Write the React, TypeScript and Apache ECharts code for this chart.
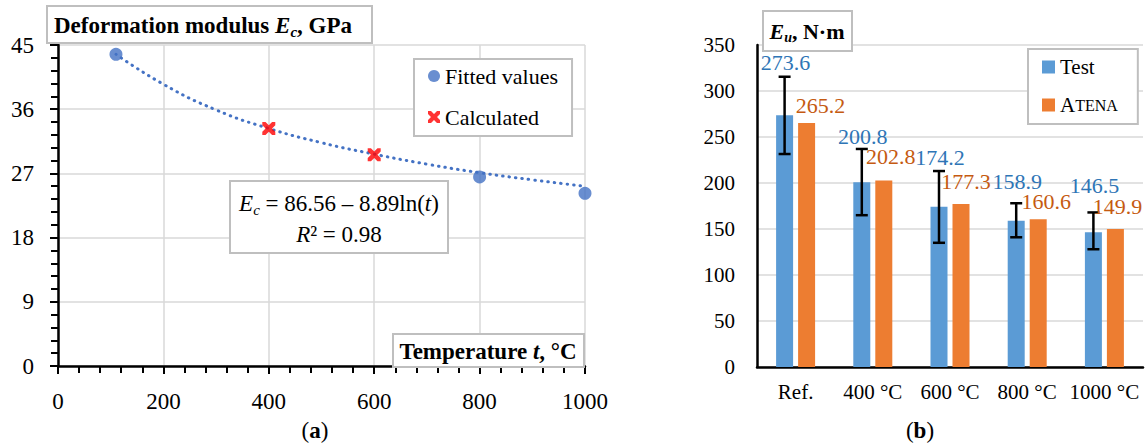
import React, { useEffect, useRef } from 'react';
import * as echarts from 'echarts';

// ---- Data: chart (a) ----
const fittedT = [110, 800, 1000];
const fittedE = [43.7, 26.5, 24.2];
const calcT = [400, 600];
const calcE = [33.3, 29.6];
const trendT = [110, 200, 300, 400, 500, 600, 700, 800, 900, 1000];
const trendE = [43.7, 39.5, 35.9, 33.3, 31.3, 29.7, 28.3, 27.1, 26.1, 25.2];
const tempTicks = { min: 0, max: 1000, step: 200 };
const modTicks = { min: 0, max: 45, step: 9 };

// ---- Data: chart (b) ----
const categories = ['Ref.', '400 °C', '600 °C', '800 °C', '1000 °C'];
const testValues = [273.6, 200.8, 174.2, 158.9, 146.5];
const atenaValues = [265.2, 202.8, 177.3, 160.6, 149.9];
const testLow = [231.5, 165, 135, 141, 128];
const testHigh = [315.5, 237, 213, 178, 168];
const energyTicks = { min: 0, max: 350, step: 50 };

// ---- Label placement (styling, px) ----
const testLabelLift = [14, 12, 14, 22, 27];
const atenaLabelLift = [18, 24, 22, 18, 23];
const atenaLabelDx = [14, 7, 5, 8, 2];

const FONT = "'Liberation Serif', 'Times New Roman', serif";
const BLUE_PT = '#4472C4';
const TEST_C = '#5B9BD5';
const ATENA_C = '#ED7D31';
const TEST_LBL = '#2E75B6';
const ATENA_LBL = '#C55A11';
const GRID_C = '#d9d9d9';
const BOX_C = '#bfbfbf';
const X_PATH = 'path://M0,0L3,0L6,3L9,0L12,0L12,3L9,6L12,9L12,12L9,12L6,9L3,12L0,12L0,9L3,6L0,3Z';

const BAR_W = 17;
const BAR_GAP_PX = 5;

export default function App() {
  const ref = useRef<HTMLDivElement>(null);
  useEffect(() => {
    if (!ref.current) return;
    const chart = echarts.init(ref.current, undefined, { renderer: 'svg' });

    const axisBlack = { show: true, lineStyle: { color: '#000', width: 2.5 } };
    const labelA = { color: '#000', fontFamily: FONT, fontSize: 23 };
    const labelB = { color: '#000', fontFamily: FONT, fontSize: 21 };

    const option: any = {
      animation: false,
      backgroundColor: '#fff',
      textStyle: { fontFamily: FONT },
      grid: [
        { left: 58, top: 45, width: 527, height: 321 },
        { left: 757, top: 45, width: 386, height: 322 },
      ],
      xAxis: [
        {
          type: 'value', gridIndex: 0,
          min: tempTicks.min, max: tempTicks.max, interval: tempTicks.step,
          axisLine: axisBlack,
          axisTick: { show: true, length: 8, lineStyle: { color: '#000', width: 2 } },
          minorTick: { show: true, splitNumber: 5, length: 7, lineStyle: { color: '#000', width: 2 } },
          splitLine: { show: true, lineStyle: { color: GRID_C, width: 1.5 } },
          axisLabel: { ...labelA, margin: 24, formatter: (v: number) => String(v) },
        },
        {
          type: 'category', gridIndex: 1, data: categories,
          axisLine: axisBlack,
          axisTick: { show: false },
          splitLine: { show: false },
          axisLabel: { ...labelB, margin: 14, interval: 0 },
        },
      ],
      yAxis: [
        {
          type: 'value', gridIndex: 0,
          min: modTicks.min, max: modTicks.max, interval: modTicks.step,
          axisLine: axisBlack,
          axisTick: { show: true, length: 8, lineStyle: { color: '#000', width: 2 } },
          minorTick: { show: true, splitNumber: 5, length: 7, lineStyle: { color: '#000', width: 2 } },
          splitLine: { show: true, lineStyle: { color: GRID_C, width: 1.5 } },
          axisLabel: { ...labelA, margin: 24 },
        },
        {
          type: 'value', gridIndex: 1,
          min: energyTicks.min, max: energyTicks.max, interval: energyTicks.step,
          axisLine: axisBlack,
          axisTick: { show: false },
          splitLine: { show: true, lineStyle: { color: GRID_C, width: 1.5 } },
          axisLabel: { ...labelB, margin: 22 },
        },
      ],
      legend: [
        {
          orient: 'vertical',
          left: 414, top: 59,
          padding: [6, 14, 8, 14],
          itemGap: 19,
          itemWidth: 12, itemHeight: 12,
          borderColor: BOX_C, borderWidth: 2, backgroundColor: '#fff',
          textStyle: { fontFamily: FONT, fontSize: 22, color: '#000', lineHeight: 22 },
          data: [
            { name: 'Fitted values', icon: 'circle' },
            { name: 'Calculated', icon: X_PATH },
          ],
        },
        {
          orient: 'vertical',
          left: 1028, top: 49,
          padding: [7, 20, 8, 14],
          itemGap: 16,
          itemWidth: 13, itemHeight: 13,
          borderColor: BOX_C, borderWidth: 2, backgroundColor: '#fff',
          textStyle: {
            fontFamily: FONT, fontSize: 21, color: '#000', lineHeight: 22,
            rich: {
              a: { fontFamily: FONT, fontSize: 21, color: '#000', lineHeight: 22 },
              b: { fontFamily: FONT, fontSize: 16, color: '#000', lineHeight: 22 },
            },
          },
          formatter: (name: string) => (name === 'ATENA' ? '{a|A}{b|TENA}' : name),
          data: [
            { name: 'Test', icon: 'rect' },
            { name: 'ATENA', icon: 'rect' },
          ],
        },
      ],
      series: [
        {
          name: 'Trend',
          type: 'line', xAxisIndex: 0, yAxisIndex: 0,
          data: trendT.map((t, i) => [t, trendE[i]]),
          smooth: true, showSymbol: false, symbol: 'none',
          lineStyle: { color: BLUE_PT, width: 3, type: [0.5, 6], cap: 'round' },
          z: 2,
        },
        {
          name: 'Fitted values',
          type: 'scatter', xAxisIndex: 0, yAxisIndex: 0,
          data: fittedT.map((t, i) => [t, fittedE[i]]),
          symbol: 'circle', symbolSize: 13,
          itemStyle: { color: BLUE_PT },
          z: 3,
        },
        {
          name: 'Calculated',
          type: 'scatter', xAxisIndex: 0, yAxisIndex: 0,
          data: calcT.map((t, i) => [t, calcE[i]]),
          symbol: X_PATH, symbolSize: 13,
          itemStyle: { color: '#FF0000' },
          z: 4,
        },
        {
          name: 'Test',
          type: 'bar', xAxisIndex: 1, yAxisIndex: 1,
          data: testValues,
          barWidth: BAR_W, barGap: (BAR_GAP_PX / BAR_W) * 100 + '%',
          itemStyle: { color: TEST_C },
        },
        {
          name: 'ATENA',
          type: 'bar', xAxisIndex: 1, yAxisIndex: 1,
          data: atenaValues,
          barWidth: BAR_W,
          itemStyle: { color: ATENA_C },
        },
        {
          name: 'Error',
          type: 'custom', xAxisIndex: 1, yAxisIndex: 1,
          data: categories.map((c, i) => [i, testLow[i], testHigh[i], testValues[i], atenaValues[i]]),
          encode: { x: 0, y: [1, 2] },
          z: 5,
          renderItem: (params: any, api: any) => {
            const idx = api.value(0);
            const i = params.dataIndex;
            const top = api.coord([idx, api.value(2)]);
            const bot = api.coord([idx, api.value(1)]);
            const aTop = api.coord([idx, api.value(4)]);
            const half = (BAR_W + BAR_GAP_PX) / 2;
            const x = top[0] - half;
            const xa = top[0] + half;
            const cap = 6;
            const ls = { stroke: '#000', lineWidth: 2.5 };
            return {
              type: 'group',
              children: [
                { type: 'line', shape: { x1: x, y1: top[1], x2: x, y2: bot[1] }, style: ls },
                { type: 'line', shape: { x1: x - cap, y1: top[1], x2: x + cap, y2: top[1] }, style: ls },
                { type: 'line', shape: { x1: x - cap, y1: bot[1], x2: x + cap, y2: bot[1] }, style: ls },
                {
                  type: 'text', x: x + 1, y: top[1] - testLabelLift[i],
                  style: {
                    text: Number(api.value(3)).toFixed(1),
                    fill: TEST_LBL, font: `22px ${FONT}`,
                    align: 'center', verticalAlign: 'middle',
                  },
                },
                {
                  type: 'text', x: xa + atenaLabelDx[i], y: aTop[1] - atenaLabelLift[i],
                  style: {
                    text: Number(api.value(4)).toFixed(1),
                    fill: ATENA_LBL, font: `22px ${FONT}`,
                    align: 'center', verticalAlign: 'middle',
                  },
                },
              ],
            };
          },
        },
      ],
      graphic: [
        // Title (a)
        { type: 'rect', shape: { x: 47, y: 6, width: 325, height: 37 }, style: { fill: '#fff', stroke: BOX_C, lineWidth: 2 }, z: 10 },
        {
          type: 'text', x: 54, y: 25, z: 11,
          style: {
            text: '{n|Deformation modulus }{i|E}{s|c}{n|, GPa}',
            verticalAlign: 'middle',
            rich: {
              n: { font: `bold 23px ${FONT}`, fill: '#000', lineHeight: 28 },
              i: { font: `bold italic 23px ${FONT}`, fill: '#000', lineHeight: 28 },
              s: { font: `bold italic 15px ${FONT}`, fill: '#000', verticalAlign: 'bottom', lineHeight: 19 },
            },
          },
        },
        // Equation box
        { type: 'rect', shape: { x: 230, y: 181, width: 218, height: 72 }, style: { fill: '#fff', stroke: BOX_C, lineWidth: 2 }, z: 10 },
        {
          type: 'text', x: 339, y: 203, z: 11,
          style: {
            text: '{i|E}{s|c}{n| = 86.56 – 8.89ln(}{i|t}{n|)}',
            align: 'center', verticalAlign: 'middle',
            rich: {
              n: { font: `23px ${FONT}`, fill: '#000', lineHeight: 28 },
              i: { font: `italic 23px ${FONT}`, fill: '#000', lineHeight: 28 },
              s: { font: `italic 15px ${FONT}`, fill: '#000', verticalAlign: 'bottom', lineHeight: 19 },
            },
          },
        },
        {
          type: 'text', x: 339, y: 234, z: 11,
          style: {
            text: '{i|R}{n|² = 0.98}',
            align: 'center', verticalAlign: 'middle',
            rich: {
              n: { font: `23px ${FONT}`, fill: '#000' },
              i: { font: `italic 23px ${FONT}`, fill: '#000' },
            },
          },
        },
        // X-axis name box (a)
        { type: 'rect', shape: { x: 393, y: 334, width: 191, height: 33 }, style: { fill: '#fff', stroke: BOX_C, lineWidth: 2 }, z: 10 },
        {
          type: 'text', x: 488, y: 351, z: 11,
          style: {
            text: '{n|Temperature }{i|t}{n|, °C}',
            align: 'center', verticalAlign: 'middle',
            rich: {
              n: { font: `bold 23px ${FONT}`, fill: '#000' },
              i: { font: `bold italic 23px ${FONT}`, fill: '#000' },
            },
          },
        },
        // Title (b)
        { type: 'rect', shape: { x: 763, y: 11, width: 89, height: 40 }, style: { fill: '#fff', stroke: BOX_C, lineWidth: 2 }, z: 10 },
        {
          type: 'text', x: 807, y: 31, z: 11,
          style: {
            text: '{i|E}{s|u}{n|, N·m}',
            align: 'center', verticalAlign: 'middle',
            rich: {
              n: { font: `bold 22px ${FONT}`, fill: '#000', lineHeight: 26 },
              i: { font: `bold italic 22px ${FONT}`, fill: '#000', lineHeight: 26 },
              s: { font: `bold italic 14px ${FONT}`, fill: '#000', verticalAlign: 'bottom', lineHeight: 18 },
            },
          },
        },
        // Captions
        {
          type: 'text', x: 315, y: 430, z: 11,
          style: {
            text: '{n|(}{b|a}{n|)}', align: 'center', verticalAlign: 'middle',
            rich: { n: { font: `23px ${FONT}`, fill: '#000' }, b: { font: `bold 23px ${FONT}`, fill: '#000' } },
          },
        },
        {
          type: 'text', x: 920, y: 430, z: 11,
          style: {
            text: '{n|(}{b|b}{n|)}', align: 'center', verticalAlign: 'middle',
            rich: { n: { font: `23px ${FONT}`, fill: '#000' }, b: { font: `bold 23px ${FONT}`, fill: '#000' } },
          },
        },
      ],
    };

    chart.setOption(option);
    return () => chart.dispose();
  }, []);

  return (
    <div
      ref={ref}
      style={{ position: 'fixed', left: 0, top: 0, width: 1145, height: 446, background: '#fff' }}
    />
  );
}
